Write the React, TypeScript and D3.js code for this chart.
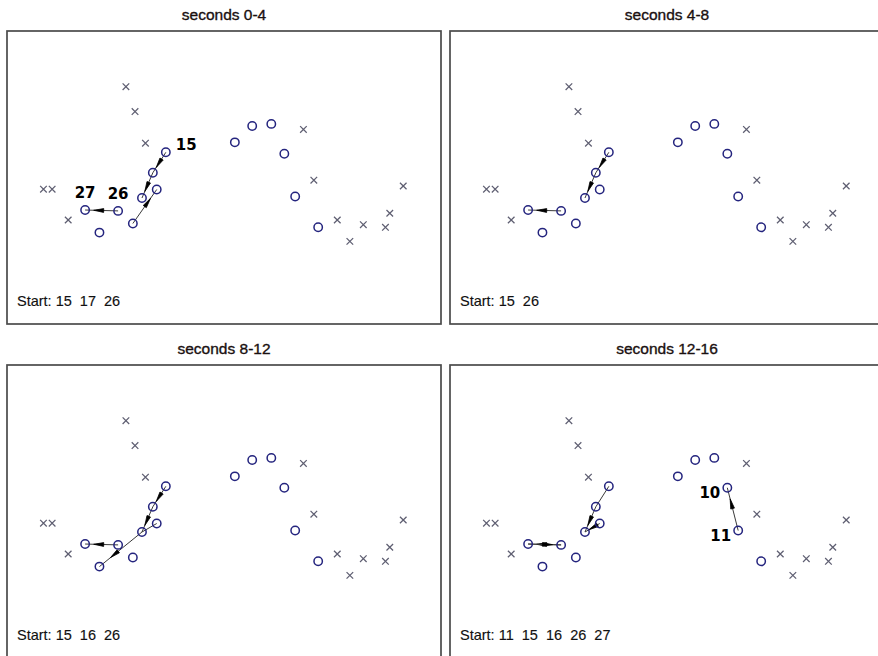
import React from "react";
import * as d3 from "d3";

// ---- data ----
const panelTitles = ["seconds 0-4", "seconds 4-8", "seconds 8-12", "seconds 12-16"];

// team "x" (grey crosses), positions in pitch units (0-100)
const crossX = [27.4, 29.5, 31.9, 8.4, 10.4, 14.1, 68.3, 70.7, 91.3, 88.2, 76.1, 82.1, 87.2, 79.0];
const crossY = [81.0, 72.5, 61.7, 46.0, 46.0, 35.5, 66.4, 49.1, 47.1, 37.8, 35.5, 33.9, 33.0, 28.2];

// team "o" (blue circles)
const circleIds = [15, 20, 16, 21, 27, 26, 17, 22, 5, 7, 8, 10, 11, 9];
const circleX = [36.6, 33.6, 34.5, 31.1, 18.0, 25.6, 29.0, 21.3, 52.5, 56.5, 60.9, 63.9, 66.4, 71.7];
const circleY = [58.6, 51.6, 45.9, 43.0, 38.9, 38.6, 34.3, 31.2, 62.0, 67.6, 68.3, 58.1, 43.5, 33.0];

// passes per panel: [from, to, hasHead]
const passes0: [number, number, boolean][] = [[15, 20, true], [20, 21, true], [17, 16, true], [26, 27, true]];
const passes1: [number, number, boolean][] = [[15, 20, true], [20, 21, true], [26, 27, true]];
const passes2: [number, number, boolean][] = [[15, 20, true], [20, 21, true], [16, 21, false], [21, 22, true], [26, 27, true]];
const passes3: [number, number, boolean][] = [[15, 20, false], [20, 21, true], [16, 21, true], [26, 27, true], [27, 26, true], [11, 10, true]];
const panelPasses = [passes0, passes1, passes2, passes3];

// labels per panel: [id, placement]
const labels0: [number, string][] = [[15, "right"], [27, "above"], [26, "above"]];
const labels3: [number, string][] = [[10, "left"], [11, "left"]];
const panelLabels = [labels0, [], [], labels3];

const panelStarts = [[15, 17, 26], [15, 26], [15, 16, 26], [11, 15, 16, 26, 27]];

// ---- layout ----
const W = 878, H = 656;
const PW = 434, PH = 293;
const panelOrigins = [[7, 31], [450, 31], [7, 365], [450, 365]];

const xScale = d3.scaleLinear().domain([0, 100]).range([0, PW]);
const yScale = d3.scaleLinear().domain([0, 100]).range([PH, 0]);

function pos(id: number): [number, number] {
  const i = circleIds.indexOf(id);
  return [xScale(circleX[i]), yScale(circleY[i])];
}

function Panel({ idx }: { idx: number }) {
  const [ox, oy] = panelOrigins[idx];
  const passes = panelPasses[idx];
  const labels = panelLabels[idx] as [number, string][];
  const T = 0.74, HL = 10, HW = 1.9;
  return (
    <g transform={`translate(${ox},${oy})`}>
      <text x={PW / 2} y={-11} textAnchor="middle" fontFamily="'Liberation Sans', Arial, sans-serif" fontSize={15.5} fill="#1a1010" stroke="#1a1010" strokeWidth={0.35}>
        {panelTitles[idx]}
      </text>
      <rect x={0} y={0} width={PW} height={PH} fill="white" stroke="#4a4a4a" strokeWidth={1.7} />
      {crossX.map((cx, i) => {
        const x = xScale(cx), y = yScale(crossY[i]), s = 3.3;
        return (
          <path key={"x" + i} d={`M${x - s},${y - s}L${x + s},${y + s}M${x - s},${y + s}L${x + s},${y - s}`} stroke="#5f5f72" strokeWidth={1.25} fill="none" />
        );
      })}
      {passes.map(([a, b, head], i) => {
        const [x1, y1] = pos(a);
        const [x2, y2] = pos(b);
        const dx = x2 - x1, dy = y2 - y1;
        const len = Math.hypot(dx, dy);
        const ux = dx / len, uy = dy / len;
        const tx = x1 + dx * T, ty = y1 + dy * T;
        const bx = tx - ux * HL, by = ty - uy * HL;
        return (
          <g key={"p" + i}>
            <line x1={x1} y1={y1} x2={x2} y2={y2} stroke="#3a3a3a" strokeWidth={1} />
            {head && (
              <path d={`M${tx},${ty}L${bx - uy * HW},${by + ux * HW}L${bx + uy * HW},${by - ux * HW}Z`} fill="#000" stroke="#000" strokeWidth={0.8} />
            )}
          </g>
        );
      })}
      {circleX.map((cx, i) => (
        <circle key={"o" + i} cx={xScale(cx)} cy={yScale(circleY[i])} r={4.2} fill="none" stroke="#24247e" strokeWidth={1.5} />
      ))}
      {labels.map(([id, place], i) => {
        const [x, y] = pos(id);
        let tx = x, ty = y, anchor = "middle";
        if (place === "above") { ty = y - 12; }
        else if (place === "right") { tx = x + 10; ty = y - 2; anchor = "start"; }
        else if (place === "left") { tx = x - 7; ty = y + 10; anchor = "end"; }
        return (
          <text key={"l" + i} x={tx} y={ty} textAnchor={anchor} fontFamily="'DejaVu Sans', Verdana, sans-serif" fontWeight="bold" fontSize={15} fill="#000">
            {id}
          </text>
        );
      })}
      <text x={10} y={275} fontFamily="'Liberation Sans', Arial, sans-serif" fontSize={14.5} fill="#111" stroke="#111" strokeWidth={0.15} style={{ whiteSpace: "pre" }}>
        {"Start: " + panelStarts[idx].join("  ")}
      </text>
    </g>
  );
}

export default function App() {
  return (
    <svg width={W} height={H} style={{ position: "absolute", left: 0, top: 0, background: "white" }}>
      <rect x={0} y={0} width={W} height={H} fill="white" />
      {[0, 1, 2, 3].map((i) => (
        <Panel key={i} idx={i} />
      ))}
    </svg>
  );
}
